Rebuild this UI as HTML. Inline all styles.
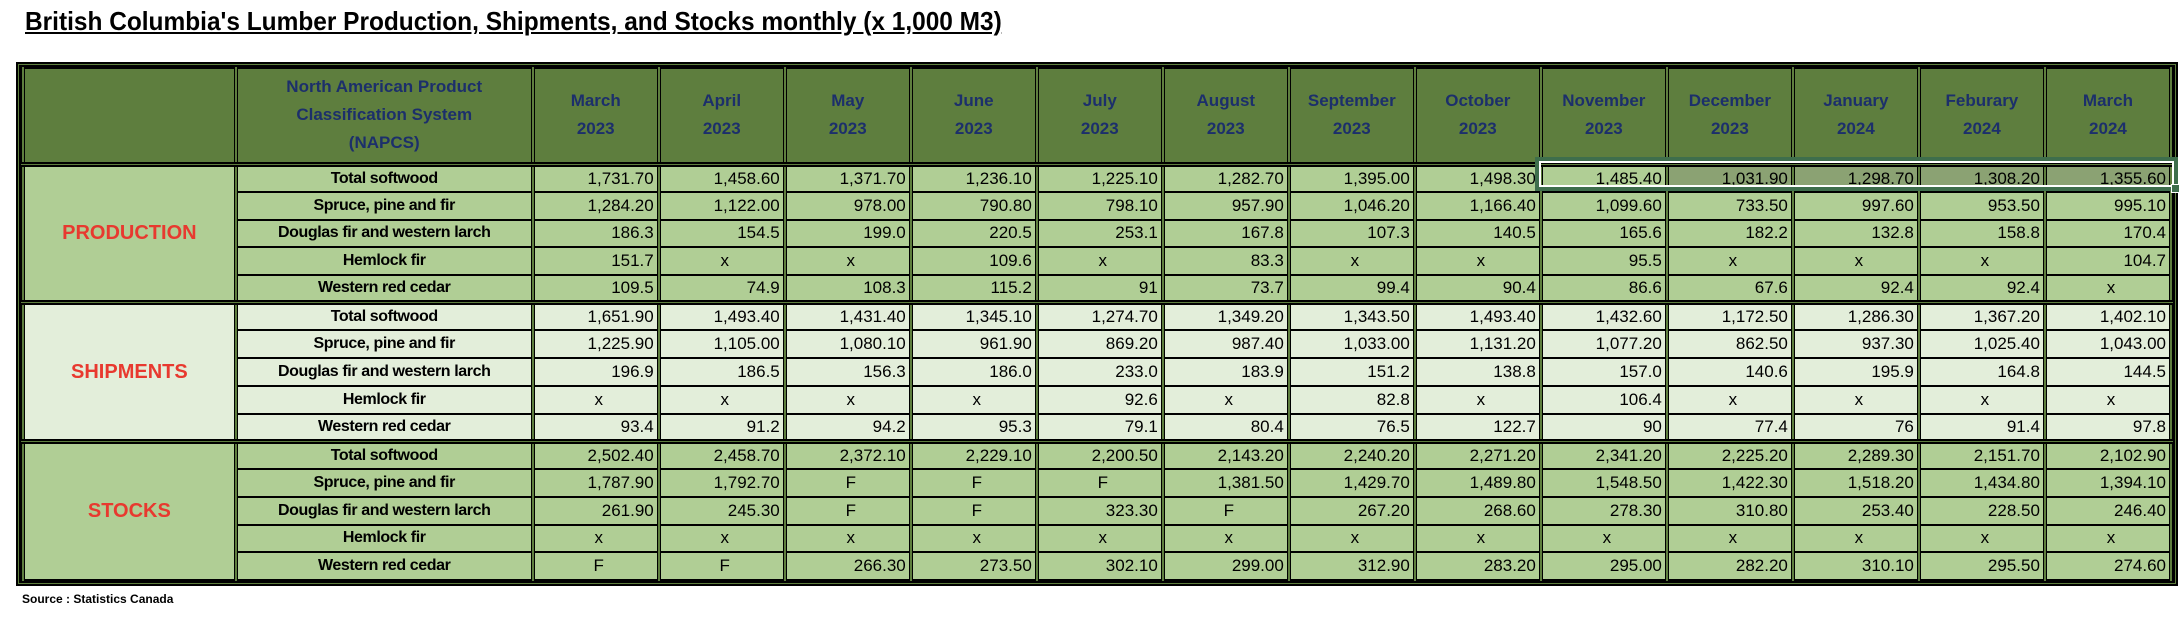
<!DOCTYPE html>
<html><head><meta charset="utf-8">
<style>
*{margin:0;padding:0;box-sizing:border-box}
body{width:2180px;height:624px;background:#fff;position:relative;overflow:hidden;font-family:"Liberation Sans",Arial,sans-serif}
#title{position:absolute;left:25px;top:6px;font-size:26px;font-weight:bold;text-decoration:underline;white-space:nowrap;transform:scaleX(0.94);transform-origin:left top;color:#000}
#wrap{position:absolute;left:16px;top:62px;width:2162px;height:524px;border:5px double #000;background:#5e7e3e;overflow:hidden}
table{border-collapse:collapse;table-layout:fixed;width:2152px;height:514px}
td,th{border-left:4px double #000;border-right:4px double #000;border-top:2px solid #000;border-bottom:2px solid #000;font-size:17px;white-space:nowrap;overflow:hidden}
th{background:#5e7e3e;color:#1c2f6b;font-weight:bold;font-size:17px;line-height:28px;height:95px;border-bottom:5px double #000}
td{height:27.4px;text-align:right;padding-right:3px;color:#000}
td.l{text-align:center;font-weight:bold;letter-spacing:-0.4px;padding:0;font-size:16px}
td.c{text-align:center;padding:0 0 0 6px}
td.cat{text-align:center;color:#e8392f;font-weight:bold;font-size:20px;padding:0}
.p td{background:#b0ce95}
.s td{background:#e3eeda}
tr.end td{border-bottom:5px double #000}
td.h{background:#8ba273 !important}
#sel{position:absolute;left:1535px;top:157px;width:643px;height:34px;border:4px solid #3e6e4c}
#sel2{position:absolute;left:1539px;top:161px;width:635px;height:26px;border:2px solid #fff}
#handle{position:absolute;left:2171px;top:184px;width:9px;height:9px;background:#3e6e4c;border:1px solid #fff}
#src{position:absolute;left:22px;top:592px;font-size:12px;font-weight:bold}
</style></head><body>
<div id="title">British Columbia's Lumber Production, Shipments, and Stocks monthly (x 1,000 M3)</div>
<div id="wrap">
<table>
<colgroup><col style="width:212px"><col style="width:296px"><col span="13" style="width:125.6px"></colgroup>
<tr><th></th><th>North American Product<br>Classification System<br>(NAPCS)</th>
<th>March<br>2023</th><th>April<br>2023</th><th>May<br>2023</th><th>June<br>2023</th><th>July<br>2023</th><th>August<br>2023</th><th>September<br>2023</th><th>October<br>2023</th><th>November<br>2023</th><th>December<br>2023</th><th>January<br>2024</th><th>Feburary<br>2024</th><th>March<br>2024</th></tr>
<tbody class="p">
<tr><td class="cat" rowspan="5" style="border-bottom:5px double #000">PRODUCTION</td><td class="l">Total softwood</td><td>1,731.70</td><td>1,458.60</td><td>1,371.70</td><td>1,236.10</td><td>1,225.10</td><td>1,282.70</td><td>1,395.00</td><td>1,498.30</td><td>1,485.40</td><td class="h">1,031.90</td><td class="h">1,298.70</td><td class="h">1,308.20</td><td class="h">1,355.60</td></tr>
<tr><td class="l">Spruce, pine and fir</td><td>1,284.20</td><td>1,122.00</td><td>978.00</td><td>790.80</td><td>798.10</td><td>957.90</td><td>1,046.20</td><td>1,166.40</td><td>1,099.60</td><td>733.50</td><td>997.60</td><td>953.50</td><td>995.10</td></tr>
<tr><td class="l">Douglas fir and western larch</td><td>186.3</td><td>154.5</td><td>199.0</td><td>220.5</td><td>253.1</td><td>167.8</td><td>107.3</td><td>140.5</td><td>165.6</td><td>182.2</td><td>132.8</td><td>158.8</td><td>170.4</td></tr>
<tr><td class="l">Hemlock fir</td><td>151.7</td><td class="c">x</td><td class="c">x</td><td>109.6</td><td class="c">x</td><td>83.3</td><td class="c">x</td><td class="c">x</td><td>95.5</td><td class="c">x</td><td class="c">x</td><td class="c">x</td><td>104.7</td></tr>
<tr class="end"><td class="l">Western red cedar</td><td>109.5</td><td>74.9</td><td>108.3</td><td>115.2</td><td>91</td><td>73.7</td><td>99.4</td><td>90.4</td><td>86.6</td><td>67.6</td><td>92.4</td><td>92.4</td><td class="c">x</td></tr>
</tbody>
<tbody class="s">
<tr><td class="cat" rowspan="5" style="border-bottom:5px double #000">SHIPMENTS</td><td class="l">Total softwood</td><td>1,651.90</td><td>1,493.40</td><td>1,431.40</td><td>1,345.10</td><td>1,274.70</td><td>1,349.20</td><td>1,343.50</td><td>1,493.40</td><td>1,432.60</td><td>1,172.50</td><td>1,286.30</td><td>1,367.20</td><td>1,402.10</td></tr>
<tr><td class="l">Spruce, pine and fir</td><td>1,225.90</td><td>1,105.00</td><td>1,080.10</td><td>961.90</td><td>869.20</td><td>987.40</td><td>1,033.00</td><td>1,131.20</td><td>1,077.20</td><td>862.50</td><td>937.30</td><td>1,025.40</td><td>1,043.00</td></tr>
<tr><td class="l">Douglas fir and western larch</td><td>196.9</td><td>186.5</td><td>156.3</td><td>186.0</td><td>233.0</td><td>183.9</td><td>151.2</td><td>138.8</td><td>157.0</td><td>140.6</td><td>195.9</td><td>164.8</td><td>144.5</td></tr>
<tr><td class="l">Hemlock fir</td><td class="c">x</td><td class="c">x</td><td class="c">x</td><td class="c">x</td><td>92.6</td><td class="c">x</td><td>82.8</td><td class="c">x</td><td>106.4</td><td class="c">x</td><td class="c">x</td><td class="c">x</td><td class="c">x</td></tr>
<tr class="end"><td class="l">Western red cedar</td><td>93.4</td><td>91.2</td><td>94.2</td><td>95.3</td><td>79.1</td><td>80.4</td><td>76.5</td><td>122.7</td><td>90</td><td>77.4</td><td>76</td><td>91.4</td><td>97.8</td></tr>
</tbody>
<tbody class="p">
<tr><td class="cat" rowspan="5">STOCKS</td><td class="l">Total softwood</td><td>2,502.40</td><td>2,458.70</td><td>2,372.10</td><td>2,229.10</td><td>2,200.50</td><td>2,143.20</td><td>2,240.20</td><td>2,271.20</td><td>2,341.20</td><td>2,225.20</td><td>2,289.30</td><td>2,151.70</td><td>2,102.90</td></tr>
<tr><td class="l">Spruce, pine and fir</td><td>1,787.90</td><td>1,792.70</td><td class="c">F</td><td class="c">F</td><td class="c">F</td><td>1,381.50</td><td>1,429.70</td><td>1,489.80</td><td>1,548.50</td><td>1,422.30</td><td>1,518.20</td><td>1,434.80</td><td>1,394.10</td></tr>
<tr><td class="l">Douglas fir and western larch</td><td>261.90</td><td>245.30</td><td class="c">F</td><td class="c">F</td><td>323.30</td><td class="c">F</td><td>267.20</td><td>268.60</td><td>278.30</td><td>310.80</td><td>253.40</td><td>228.50</td><td>246.40</td></tr>
<tr><td class="l">Hemlock fir</td><td class="c">x</td><td class="c">x</td><td class="c">x</td><td class="c">x</td><td class="c">x</td><td class="c">x</td><td class="c">x</td><td class="c">x</td><td class="c">x</td><td class="c">x</td><td class="c">x</td><td class="c">x</td><td class="c">x</td></tr>
<tr><td class="l">Western red cedar</td><td class="c">F</td><td class="c">F</td><td>266.30</td><td>273.50</td><td>302.10</td><td>299.00</td><td>312.90</td><td>283.20</td><td>295.00</td><td>282.20</td><td>310.10</td><td>295.50</td><td>274.60</td></tr>
</tbody>
</table>
</div>
<div id="sel"></div><div id="sel2"></div><div id="handle"></div>
<div id="src">Source : Statistics Canada</div>
</body></html>
